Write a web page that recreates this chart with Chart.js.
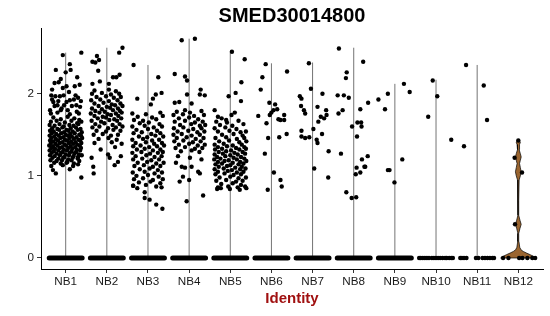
<!DOCTYPE html>
<html>
<head>
<meta charset="utf-8">
<script src="https://cdn.jsdelivr.net/npm/chart.js@4.4.1/dist/chart.umd.min.js"></script>
<style>
  body { margin: 0; background: #fff; }
  #chart { display: block; }
</style>
</head>
<body>
<canvas id="chart" width="550" height="316"></canvas>
<script>
// categories + y ticks
const categories = ['NB1','NB2','NB3','NB4','NB5','NB6','NB7','NB8','NB9','NB10','NB11','NB12'];
const yTicks = [0, 1, 2];
const chartTitle = 'SMED30014800';
const xTitle = 'Identity';

// top of each violin (max expression per group)
const violinMax = [2.50, 2.56, 2.35, 2.67, 2.51, 2.37, 2.38, 2.56, 2.12, 2.17, 2.35, 1.43];

// NB12 violin outline: y values and half widths (category units)
const nb12ViolinY = [0, 0.02, 0.04, 0.06, 0.08, 0.10, 0.13, 0.20, 0.30, 0.36, 0.41, 0.46, 0.52, 0.70, 0.95, 1.00, 1.05, 1.10, 1.15, 1.19, 1.23, 1.27, 1.32, 1.38, 1.41, 1.43];
const nb12ViolinW = [0.43, 0.37, 0.29, 0.20, 0.12, 0.065, 0.035, 0.015, 0.01, 0.04, 0.07, 0.04, 0.01, 0.01, 0.02, 0.05, 0.07, 0.05, 0.03, 0.05, 0.07, 0.05, 0.02, 0.03, 0.05, 0.02];

// groups whose zeros pile up into a solid band
const zeroBandGroups = [0, 1, 2, 3, 4, 5, 6, 7, 8];
// sparse zeros, jitter offsets
const nb10Zero = [-0.41,-0.37,-0.32,-0.27,-0.22,-0.17,-0.10,-0.05,0.00,0.05,0.10,0.16,0.22,0.26,0.32,0.37,0.41];
const nb11Zero = [-0.41,-0.37,-0.32,-0.26,-0.03,0.03,0.13,0.19,0.25,0.31,0.37,0.41];
const nb12Zero = [-0.37,-0.24,0.02,0.10,0.22,0.34,0.41];

// non-zero cells: [jitter offset, expression]
const nb1 = [
  [-0.07,2.47],[0.38,2.50],[0.10,2.36],[0.12,2.29],[0.00,2.26],[-0.24,2.29],[-0.17,2.14],[-0.27,2.13],[-0.07,2.07],[0.02,2.09],
  [0.34,2.11],[0.22,2.09],[-0.35,1.98],[-0.25,1.97],[-0.14,1.97],[-0.05,1.98],[0.24,1.98],[0.30,1.95],[-0.30,1.90],[0.10,1.92],
  [-0.20,1.86],[0.15,1.85],[0.35,1.84],[-0.38,1.80],[-0.10,1.82],[0.05,1.80],[0.27,1.78],[0.08,2.02],[-0.33,2.05],[0.28,2.20],[-0.12,2.18],
  [-0.33,1.93],[-0.18,1.91],[0.02,1.90],[0.20,1.93],[0.37,1.91],[-0.27,1.85],[-0.04,1.86],[0.26,1.86],[-0.36,1.76],[-0.20,1.77],[0.10,1.75],[0.32,1.76],[-0.12,1.80],
  [-0.31,1.07],[-0.24,1.03],[0.38,0.98],[-0.07,1.13],[0.18,1.12],[0.30,1.14],[-0.35,1.12],[0.10,1.08],
  [-0.30,1.71],[-0.12,1.69],[0.05,1.72],[0.21,1.70],[0.33,1.68],
  [-0.36,1.66],[-0.22,1.67],[-0.02,1.65],[0.14,1.67],[0.28,1.64],[0.38,1.66],
  [-0.39,1.62],[-0.27,1.61],[-0.15,1.63],[-0.05,1.60],[0.09,1.62],[0.19,1.61],[0.31,1.63],
  [-0.33,1.58],[-0.20,1.57],[-0.08,1.59],[0.02,1.56],[0.12,1.58],[0.25,1.59],[0.36,1.57],
  [-0.38,1.55],[-0.29,1.54],[-0.16,1.56],[-0.04,1.53],[0.07,1.55],[0.17,1.54],[0.29,1.56],[0.39,1.53],
  [-0.34,1.52],[-0.23,1.51],[-0.11,1.52],[0.00,1.50],[0.11,1.51],[0.22,1.52],[0.33,1.50],
  [-0.39,1.49],[-0.28,1.48],[-0.17,1.49],[-0.06,1.47],[0.05,1.49],[0.15,1.48],[0.26,1.47],[0.37,1.49],
  [-0.35,1.46],[-0.24,1.45],[-0.13,1.46],[-0.02,1.44],[0.09,1.46],[0.20,1.45],[0.31,1.44],[0.40,1.46],
  [-0.38,1.43],[-0.30,1.42],[-0.19,1.43],[-0.08,1.41],[0.03,1.43],[0.13,1.42],[0.24,1.41],[0.35,1.43],
  [-0.36,1.40],[-0.25,1.39],[-0.14,1.40],[-0.03,1.38],[0.08,1.40],[0.18,1.39],[0.28,1.38],[0.38,1.40],
  [-0.40,1.37],[-0.31,1.36],[-0.20,1.37],[-0.09,1.35],[0.01,1.37],[0.12,1.36],[0.23,1.35],[0.34,1.37],
  [-0.35,1.34],[-0.26,1.33],[-0.15,1.34],[-0.05,1.32],[0.06,1.34],[0.16,1.33],[0.27,1.32],[0.37,1.34],
  [-0.39,1.31],[-0.29,1.30],[-0.18,1.31],[-0.07,1.29],[0.03,1.31],[0.14,1.30],[0.25,1.29],[0.35,1.31],
  [-0.34,1.28],[-0.22,1.27],[-0.11,1.28],[0.00,1.26],[0.10,1.28],[0.21,1.27],[0.32,1.26],
  [-0.38,1.25],[-0.27,1.24],[-0.14,1.25],[-0.03,1.23],[0.08,1.25],[0.19,1.24],[0.30,1.23],[0.39,1.25],
  [-0.32,1.22],[-0.18,1.21],[-0.06,1.22],[0.06,1.20],[0.17,1.22],[0.29,1.21],
  [-0.37,1.19],[-0.22,1.18],[-0.09,1.19],[0.04,1.17],[0.14,1.19],[0.33,1.18],
  [-0.28,1.16],[-0.12,1.15],[0.02,1.16],[0.20,1.15]
];
const nb2 = [
  [0.38,2.56],[0.30,2.50],[-0.24,2.46],[-0.35,2.39],[-0.28,2.38],[-0.19,2.41],[-0.21,2.28],[0.31,2.23],[0.23,2.20],[0.15,2.20],
  [-0.17,2.15],[-0.35,2.12],[0.05,2.12],[-0.37,1.22],[-0.33,1.11],[-0.32,1.03],[0.03,1.26],[0.07,1.22],[0.19,1.13],[0.27,1.17],
  [0.34,1.24],[-0.15,1.32],[0.20,1.35],
  [-0.30,2.04],[0.05,2.05],[0.22,2.03],
  [-0.36,2.00],[-0.12,2.01],[0.10,1.99],[0.30,2.00],
  [-0.25,1.96],[-0.02,1.97],[0.17,1.95],[0.34,1.96],
  [-0.38,1.92],[-0.16,1.93],[0.05,1.91],[0.26,1.92],
  [-0.30,1.88],[-0.08,1.89],[0.12,1.87],[0.33,1.88],
  [-0.20,1.85],[0.00,1.84],[0.20,1.86],[0.38,1.85],
  [-0.36,1.82],[-0.12,1.81],[0.08,1.83],[0.27,1.82],
  [-0.28,1.79],[-0.05,1.78],[0.15,1.80],[0.32,1.79],
  [-0.39,1.76],[-0.18,1.77],[0.02,1.75],[0.22,1.76],[0.36,1.77],
  [-0.30,1.73],[-0.10,1.72],[0.10,1.74],[0.28,1.73],
  [-0.22,1.70],[-0.02,1.71],[0.18,1.69],[0.35,1.70],
  [-0.37,1.67],[-0.14,1.66],[0.06,1.68],[0.25,1.67],
  [-0.28,1.63],[-0.06,1.64],[0.14,1.62],[0.31,1.63],
  [-0.35,1.59],[-0.18,1.60],[0.03,1.58],[0.22,1.59],[0.38,1.60],
  [-0.25,1.55],[-0.02,1.54],[0.16,1.56],[0.33,1.55],
  [-0.32,1.50],[-0.10,1.51],[0.10,1.49],[0.27,1.50],
  [-0.20,1.45],[0.04,1.46],[0.24,1.44],
  [-0.30,1.40],[0.12,1.41],[0.36,1.39]
];
const nb3 = [
  [-0.35,2.35],[0.25,2.20],[-0.26,1.94],[0.12,1.94],[0.19,1.99],[0.33,2.01],[0.07,1.87],[-0.08,0.80],[-0.08,0.73],[0.04,0.71],
  [0.20,0.65],[0.35,0.60],[-0.36,0.88],
  [-0.38,1.76],[-0.05,1.75],[0.30,1.77],
  [-0.25,1.72],[0.10,1.71],[0.36,1.73],
  [-0.34,1.68],[-0.12,1.67],[0.20,1.69],
  [-0.20,1.64],[0.02,1.65],[0.28,1.63],
  [-0.38,1.60],[-0.08,1.61],[0.14,1.59],[0.34,1.60],
  [-0.28,1.56],[0.00,1.57],[0.22,1.55],
  [-0.35,1.52],[-0.15,1.53],[0.08,1.51],[0.30,1.52],
  [-0.22,1.48],[-0.02,1.47],[0.18,1.49],[0.37,1.48],
  [-0.38,1.44],[-0.12,1.45],[0.10,1.43],[0.27,1.44],
  [-0.30,1.40],[-0.05,1.41],[0.15,1.39],[0.34,1.40],
  [-0.36,1.36],[-0.18,1.37],[0.03,1.35],[0.22,1.36],[0.39,1.37],
  [-0.27,1.32],[-0.08,1.33],[0.12,1.31],[0.30,1.32],
  [-0.38,1.28],[-0.16,1.29],[0.05,1.27],[0.24,1.28],[0.36,1.29],
  [-0.30,1.24],[-0.04,1.25],[0.16,1.23],[0.33,1.24],
  [-0.36,1.20],[-0.14,1.21],[0.08,1.19],[0.27,1.20],
  [-0.25,1.16],[-0.02,1.17],[0.20,1.15],[0.38,1.16],
  [-0.33,1.12],[-0.10,1.13],[0.12,1.11],[0.30,1.12],
  [-0.20,1.08],[0.04,1.09],[0.24,1.07],
  [-0.37,1.04],[-0.08,1.05],[0.16,1.03],[0.34,1.04],
  [-0.28,1.00],[0.00,1.01],[0.26,0.99],
  [-0.34,0.96],[-0.12,0.97],[0.12,0.95],[0.36,0.96],
  [-0.22,0.92],[0.06,0.93],[0.30,0.91],
  [-0.36,0.88],[-0.05,0.89],[0.20,0.87],
  [-0.26,0.85],[0.33,0.86]
];
const nb4 = [
  [-0.18,2.65],[0.14,2.67],[-0.35,2.24],[-0.10,2.21],[-0.05,2.16],[0.28,2.05],[0.26,1.99],[0.38,1.98],[-0.05,1.99],[-0.35,1.89],
  [-0.24,1.90],[0.06,1.88],[-0.10,1.80],[-0.27,1.24],[-0.18,1.11],[-0.10,1.10],[0.02,1.22],[0.06,1.11],[0.22,1.05],[0.26,1.03],
  [-0.23,0.93],[-0.15,0.99],[0.00,0.95],[0.34,0.76],[-0.06,0.69],[0.30,1.20],[-0.32,1.16],
  [-0.30,1.78],[0.02,1.77],[0.30,1.79],
  [-0.38,1.74],[-0.15,1.75],[0.12,1.73],[0.36,1.74],
  [-0.25,1.70],[0.00,1.71],[0.22,1.69],
  [-0.35,1.66],[-0.10,1.67],[0.14,1.65],[0.33,1.66],
  [-0.22,1.62],[0.05,1.63],[0.26,1.61],[0.39,1.62],
  [-0.37,1.58],[-0.14,1.59],[0.10,1.57],[0.30,1.58],
  [-0.28,1.54],[-0.02,1.55],[0.20,1.53],[0.37,1.54],
  [-0.38,1.50],[-0.18,1.51],[0.06,1.49],[0.26,1.50],
  [-0.30,1.46],[-0.06,1.47],[0.16,1.45],[0.35,1.46],
  [-0.36,1.42],[-0.14,1.43],[0.09,1.41],[0.28,1.42],
  [-0.25,1.38],[0.00,1.39],[0.21,1.37],[0.38,1.38],
  [-0.33,1.34],[-0.10,1.35],[0.14,1.33],[0.32,1.34],
  [-0.20,1.30],[0.06,1.31],[0.25,1.29]
];
const nb5 = [
  [0.04,2.51],[0.35,2.42],[0.27,2.14],[0.13,2.01],[-0.04,1.97],[0.26,1.91],[0.11,1.77],[0.03,1.74],[-0.38,1.80],[-0.30,1.72],
  [-0.21,1.70],[-0.10,1.68],[-0.32,0.84],[-0.23,0.85],[-0.01,0.84],[0.23,0.83],[0.39,0.85],
  [-0.34,1.66],[-0.08,1.65],[0.20,1.67],
  [-0.25,1.62],[0.05,1.61],[0.32,1.63],
  [-0.38,1.58],[-0.12,1.59],[0.15,1.57],
  [-0.30,1.54],[-0.02,1.55],[0.25,1.53],[0.38,1.54],
  [-0.20,1.50],[0.08,1.51],[0.30,1.49],
  [-0.36,1.46],[-0.10,1.47],[0.16,1.45],[0.34,1.46],
  [-0.27,1.42],[-0.03,1.43],[0.22,1.41],[0.39,1.42],
  [-0.38,1.38],[-0.16,1.39],[0.06,1.37],[0.28,1.38],
  [-0.30,1.35],[-0.08,1.36],[0.14,1.34],[0.34,1.35],
  [-0.37,1.32],[-0.20,1.33],[0.02,1.31],[0.22,1.32],[0.38,1.33],
  [-0.28,1.29],[-0.10,1.30],[0.10,1.28],[0.30,1.29],
  [-0.38,1.26],[-0.18,1.27],[0.00,1.25],[0.18,1.26],[0.36,1.27],
  [-0.32,1.23],[-0.12,1.24],[0.08,1.22],[0.26,1.23],
  [-0.39,1.20],[-0.24,1.21],[-0.04,1.19],[0.16,1.20],[0.34,1.21],
  [-0.30,1.17],[-0.14,1.18],[0.06,1.16],[0.24,1.17],[0.39,1.18],
  [-0.36,1.14],[-0.20,1.15],[0.00,1.13],[0.20,1.14],[0.32,1.15],
  [-0.28,1.11],[-0.08,1.12],[0.12,1.10],[0.28,1.11],
  [-0.38,1.08],[-0.16,1.09],[0.04,1.07],[0.24,1.08],[0.37,1.09],
  [-0.30,1.05],[-0.06,1.06],[0.16,1.04],[0.32,1.05],
  [-0.36,1.02],[-0.14,1.03],[0.08,1.01],[0.26,1.02],
  [-0.26,0.98],[0.00,0.99],[0.20,0.97],[0.38,0.98],
  [-0.34,0.94],[-0.10,0.95],[0.14,0.93],[0.30,0.94],
  [-0.22,0.90],[0.06,0.91],[0.26,0.89],
  [-0.30,0.86],[-0.05,0.87],[0.18,0.86],[0.36,0.87]
];
const nb6 = [
  [-0.14,2.36],[-0.22,2.20],[-0.26,2.05],[0.38,2.27],[-0.05,1.89],[0.09,1.87],[0.14,1.81],[0.05,1.80],[-0.32,1.73],[-0.04,1.74],
  [0.00,1.77],[0.17,1.69],[0.22,1.68],[0.31,1.74],[0.31,1.68],[-0.12,1.64],[0.37,1.51],[-0.08,1.46],[0.19,1.47],[-0.16,1.27],
  [0.06,1.04],[0.22,0.95],[0.25,0.87],[-0.09,0.83]
];
const nb7 = [
  [-0.31,1.97],[-0.27,1.94],[-0.28,1.85],[-0.21,1.80],[-0.18,1.76],[-0.27,1.55],[-0.27,1.48],[-0.18,1.46],[-0.08,1.47],[-0.09,2.37],
  [-0.04,2.06],[0.02,1.57],[0.04,1.09],[0.12,1.84],[0.10,1.44],[0.12,1.40],[0.14,1.66],[0.20,1.72],[0.24,2.00],[0.23,1.51],
  [0.28,1.70],[0.33,1.80],[0.34,1.74],[0.39,1.30],[0.38,0.98]
];
const nb8 = [
  [-0.36,2.55],[-0.39,1.98],[-0.24,1.98],[-0.12,1.95],[-0.17,2.26],[-0.19,2.19],[-0.27,1.80],[-0.37,1.76],[-0.31,1.27],[-0.04,1.60],
  [0.09,1.65],[0.18,1.65],[0.19,1.60],[0.16,1.81],[0.23,2.39],[0.35,1.89],[0.08,1.48],[0.20,1.20],[0.34,1.24],[0.28,1.11],
  [0.26,1.11],[0.07,1.10],[0.05,1.02],[0.16,1.04],[-0.18,0.80],[-0.05,0.73],[0.06,0.74]
];
const nb9 = [[-0.17,2.00],[-0.24,1.81],[-0.40,1.93],[-0.17,1.07],[-0.13,1.07],[-0.01,0.92],[0.22,2.12],[0.36,2.02],[0.18,1.20]];
const nb10 = [[-0.08,2.16],[0.03,1.97],[-0.19,1.72],[0.37,1.44]];
const nb11 = [[-0.27,2.35],[0.16,2.10],[0.24,1.68],[-0.32,1.36]];
const nb12 = [[0.00,1.43],[-0.09,1.22],[0.09,1.04],[-0.08,0.41]];

const groups = [nb1, nb2, nb3, nb4, nb5, nb6, nb7, nb8, nb9, nb10, nb11, nb12];
const zeroDotGroups = { 9: nb10Zero, 10: nb11Zero, 11: nb12Zero };

const yMin = -0.134, yMax = 2.80;
const FONT = '"Liberation Sans", Arial, Helvetica, sans-serif';

// build datasets
const pointData = [];
groups.forEach((g, i) => g.forEach(([dx, y]) => pointData.push({ x: i + dx, y })));
Object.keys(zeroDotGroups).forEach(k => {
  zeroDotGroups[k].forEach(dx => pointData.push({ x: +k + dx, y: 0 }));
});

const bandData = [];
zeroBandGroups.forEach(i => {
  bandData.push({ x: i - 0.4, y: 0 }, { x: i + 0.4, y: 0 }, { x: i, y: null });
});

const violinLines = [];
for (let i = 0; i < 11; i++) {
  violinLines.push({ x: i, y: 0 }, { x: i, y: violinMax[i] }, { x: i, y: null });
}

const c12 = 11;
const violinPoly = [];
nb12ViolinY.forEach((y, j) => violinPoly.push({ x: c12 + nb12ViolinW[j], y }));
for (let j = nb12ViolinY.length - 1; j >= 0; j--) violinPoly.push({ x: c12 - nb12ViolinW[j], y: nb12ViolinY[j] });
violinPoly.push(violinPoly[0]);

const textPlugin = {
  id: 'textPlugin',
  afterDraw(chart) {
    const { ctx, chartArea } = chart;
    const cx = (chartArea.left + chartArea.right) / 2;
    ctx.save();
    ctx.textAlign = 'center';
    ctx.textBaseline = 'alphabetic';
    ctx.fillStyle = '#000';
    ctx.font = 'bold 20px ' + FONT;
    ctx.fillText(chartTitle, cx, 22);
    ctx.fillStyle = '#a01010';
    ctx.font = 'bold 15px ' + FONT;
    ctx.fillText(xTitle, cx, 303);
    ctx.restore();
  }
};

new Chart(document.getElementById('chart'), {
  type: 'scatter',
  data: {
    datasets: [
      {
        data: pointData,
        backgroundColor: '#000',
        borderWidth: 0,
        pointRadius: 2.2,
        order: 0
      },
      {
        data: bandData,
        showLine: true,
        spanGaps: false,
        borderColor: '#000',
        borderWidth: 5,
        borderCapStyle: 'round',
        pointRadius: 0,
        order: 1
      },
      {
        data: violinLines,
        showLine: true,
        spanGaps: false,
        borderColor: 'rgba(0,0,0,0.55)',
        borderWidth: 1,
        pointRadius: 0,
        order: 2
      },
      {
        data: violinPoly,
        showLine: true,
        fill: 'shape',
        backgroundColor: '#9a6530',
        borderColor: '#000',
        borderWidth: 0.7,
        pointRadius: 0,
        order: 3
      }
    ]
  },
  options: {
    responsive: false,
    animation: false,
    devicePixelRatio: 1,
    layout: { padding: { top: 28, right: 7, left: 0, bottom: 0 } },
    plugins: { legend: { display: false }, tooltip: { enabled: false } },
    scales: {
      x: {
        type: 'linear',
        min: -0.6, max: 11.6,
        afterBuildTicks: s => { s.ticks = categories.map((c, i) => ({ value: i })); },
        afterFit: s => { s.height = 47; },
        border: { display: true, color: '#000', width: 1 },
        grid: { display: true, drawOnChartArea: false, drawTicks: true, tickLength: 4, color: '#333' },
        ticks: {
          autoSkip: false, maxRotation: 0, padding: 2,
          color: '#1a1a1a', font: { family: FONT, size: 11.7 },
          callback: v => categories[v]
        }
      },
      y: {
        min: yMin, max: yMax,
        afterBuildTicks: s => { s.ticks = yTicks.map(v => ({ value: v })); },
        afterFit: s => { s.width = 41; },
        border: { display: true, color: '#000', width: 1 },
        grid: { display: true, drawOnChartArea: false, drawTicks: true, tickLength: 4, color: '#333' },
        ticks: {
          padding: 3,
          color: '#1a1a1a', font: { family: FONT, size: 11.7 },
          callback: v => String(v)
        }
      }
    }
  },
  plugins: [textPlugin]
});
</script>
</body>
</html>
